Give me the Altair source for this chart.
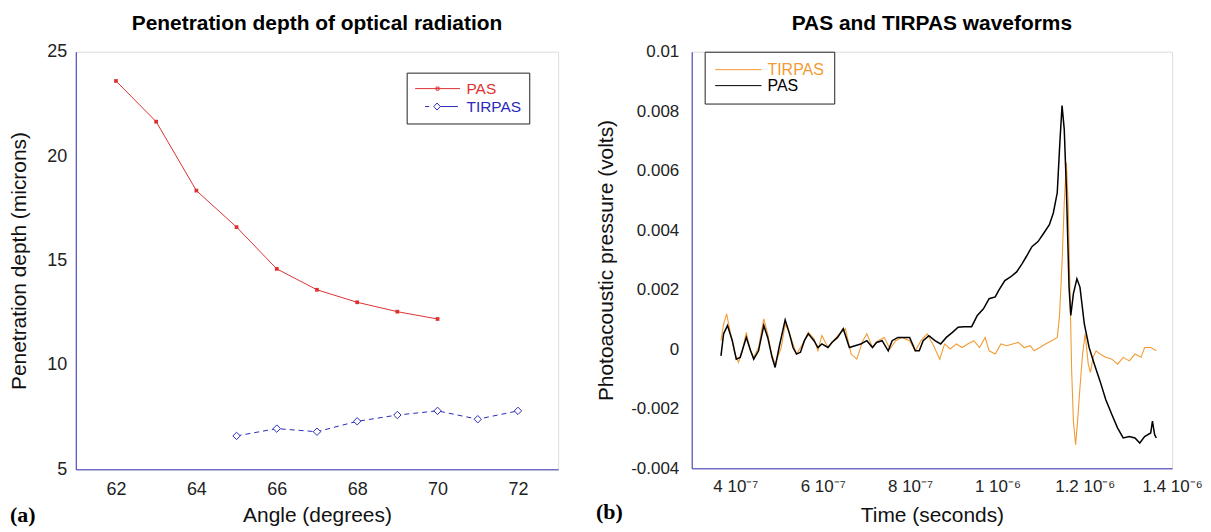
import altair as alt
import pandas as pd

# ---------------- panel (a) data ----------------
angle_pas = [62, 63, 64, 65, 66, 67, 68, 69, 70]
depth_pas = [23.6, 21.65, 18.35, 16.6, 14.6, 13.6, 13.0, 12.55, 12.2]
angle_tirpas = [65, 66, 67, 68, 69, 70, 71, 72]
depth_tirpas = [6.6, 6.95, 6.8, 7.3, 7.6, 7.8, 7.4, 7.8]
angle_ticks = [62, 64, 66, 68, 70, 72]
depth_ticks = [5, 10, 15, 20, 25]

# ---------------- panel (b) data ----------------
# time in units of 1e-7 s, pressure in mV
pas_time = [3.67, 3.73, 3.82, 3.93, 4.02, 4.11, 4.25, 4.35, 4.42, 4.53, 4.65, 4.74, 4.84, 4.91,
            5.00, 5.14, 5.23, 5.32, 5.40, 5.49, 5.58, 5.67, 5.80, 5.89, 5.98, 6.12, 6.21, 6.34,
            6.47, 6.61, 6.74, 6.87, 7.01, 7.14, 7.23, 7.36, 7.50, 7.59, 7.72, 7.85, 7.99, 8.12,
            8.21, 8.30, 8.43, 8.57, 8.70, 8.83, 8.97, 9.10, 9.23, 9.41, 9.54, 9.68, 9.81, 9.95,
            10.03, 10.17, 10.30, 10.44, 10.57, 10.66, 10.79, 10.93, 11.06, 11.19, 11.28, 11.37,
            11.43, 11.48, 11.53, 11.58, 11.64, 11.68, 11.74, 11.82, 11.89, 11.99, 12.10, 12.22,
            12.35, 12.48, 12.62, 12.75, 12.88, 13.02, 13.15, 13.26, 13.37, 13.51, 13.55, 13.60, 13.64]
pas_mv = [-0.22, 0.52, 0.80, 0.29, -0.33, -0.27, 0.40, -0.05, -0.33, -0.05, 0.80, 0.40, -0.27, -0.61,
          0.06, 0.99, 0.57, 0.06, -0.16, -0.10, 0.29, 0.52, 0.29, 0.06, 0.18, 0.06, 0.23, 0.40,
          0.69, 0.06, 0.12, 0.18, 0.29, 0.06, 0.23, 0.29, -0.05, 0.29, 0.40, 0.40, 0.40, -0.05,
          -0.05, 0.29, 0.46, 0.29, 0.18, 0.40, 0.57, 0.74, 0.76, 0.76, 1.14, 1.36, 1.70, 1.76,
          1.98, 2.31, 2.43, 2.60, 2.89, 3.11, 3.45, 3.62, 3.90, 4.19, 4.58, 5.26,
          6.95, 8.19, 7.40, 5.37, 2.09, 1.14, 1.87, 2.37, 2.09, 0.85, 0.06, -0.50,
          -1.07, -1.69, -2.19, -2.64, -2.98, -2.93, -2.98, -3.15, -2.93, -2.81, -2.41, -2.87, -2.98]
tir_time = [3.67, 3.73, 3.80, 3.89, 3.98, 4.07, 4.16, 4.25, 4.34, 4.42, 4.53, 4.65, 4.74, 4.83,
            4.91, 5.05, 5.14, 5.23, 5.32, 5.40, 5.54, 5.67, 5.80, 5.89, 5.98, 6.12, 6.25, 6.38,
            6.52, 6.65, 6.78, 6.92, 7.01, 7.14, 7.27, 7.41, 7.54, 7.67, 7.81, 7.99, 8.12, 8.25,
            8.39, 8.52, 8.68, 8.79, 8.92, 9.06, 9.19, 9.32, 9.46, 9.59, 9.72, 9.81, 9.95, 10.08,
            10.21, 10.35, 10.48, 10.61, 10.75, 10.84, 10.97, 11.10, 11.24, 11.37, 11.42, 11.48,
            11.53, 11.58, 11.62, 11.66, 11.70, 11.74, 11.79, 11.83, 11.89, 11.95, 12.01, 12.08,
            12.13, 12.19, 12.26, 12.35, 12.48, 12.62, 12.75, 12.88, 13.02, 13.15, 13.29, 13.37,
            13.51, 13.64]
tir_mv = [0.29, 0.85, 1.19, 0.52, -0.10, -0.44, -0.05, 0.57, -0.05, -0.27, 0.06, 1.02, 0.52, -0.16,
          -0.50, 0.06, 0.85, 0.57, 0.18, -0.16, 0.18, 0.57, 0.35, -0.05, 0.46, 0.06, 0.29, 0.52,
          0.69, -0.16, -0.33, 0.29, 0.52, 0.06, 0.29, 0.40, 0.01, 0.29, 0.40, 0.29, -0.05, 0.29,
          0.52, 0.18, -0.33, 0.18, 0.01, 0.18, 0.06, 0.18, 0.29, 0.06, 0.40, -0.05, -0.16, 0.18,
          0.12, 0.18, 0.23, 0.06, 0.12, -0.05, 0.06, 0.18, 0.29, 0.40, 1.08, 2.89,
          4.92, 6.27, 4.92, 2.09, -0.72, -2.41, -3.21, -2.53, -1.29, -0.16, 0.52, -0.50,
          -0.78, -0.27, -0.05, -0.16, -0.27, -0.33, -0.50, -0.27, -0.39, -0.16, -0.27, 0.06,
          0.06, -0.05]
time_ticks = [4e-7, 6e-7, 8e-7, 1e-6, 1.2e-6, 1.4e-6]
volt_ticks = [-0.004, -0.002, 0, 0.002, 0.004, 0.006, 0.008, 0.01]

series_a = ["PAS", "TIRPAS"]
series_b = ["TIRPAS", "PAS"]

# ---------------- styling ----------------
FONT = "Liberation Sans"
AXIS_BLUE = "#3535b5"
RED = "#dc3232"
BLUE = "#2a2ab8"
ORANGE = "#f39b33"
BLACK = "#000000"

# legend symbols: line + marker drawn as custom paths (unit = sqrt(size)/2)
PATH_PAS = "M-1,0H5M1.8,-0.2H2.2V0.2H1.8Z"
PATH_TIR = "M0.33,0H0.87M1.5,0L1.93,-0.47L2.36,0L1.93,0.47ZM2.36,0H4.73"
PATH_LINE = "M-1,0H5.2"

df_pas = pd.DataFrame({"angle": angle_pas, "depth": depth_pas})
df_tir = pd.DataFrame({"angle": angle_tirpas, "depth": depth_tirpas})
df_leg_a = pd.DataFrame({"series_a": series_a})

df_b_pas = pd.DataFrame({"t": [x * 1e-7 for x in pas_time], "v": [y / 1000 for y in pas_mv]})
df_b_tir = pd.DataFrame({"t": [x * 1e-7 for x in tir_time], "v": [y / 1000 for y in tir_mv]})
df_leg_b = pd.DataFrame({"series_b": series_b})


def axis(title, values, size, lab_pad, tit_pad, label_expr=None):
    kw = dict(
        title=title, values=values, grid=False, ticks=False,
        domainColor=AXIS_BLUE, domainWidth=1,
        labelFont=FONT, labelFontSize=size, labelColor="#222222", labelPadding=lab_pad,
        labelOverlap=False, labelFlush=False,
        titleFont=FONT, titleFontSize=21, titleFontWeight="normal", titleColor="#111111",
        titlePadding=tit_pad,
    )
    if label_expr:
        kw["labelExpr"] = label_expr
    return alt.Axis(**kw)


# ---------------- panel (a) ----------------
xa = alt.X("angle:Q", scale=alt.Scale(domain=[61, 73], nice=False, zero=False),
           axis=axis("Angle (degrees)", angle_ticks, 18, 11, 6))
ya = alt.Y("depth:Q", scale=alt.Scale(domain=[5, 25], nice=False, zero=False),
           axis=axis("Penetration depth (microns)", depth_ticks, 18, 9, 17))

line_pas = alt.Chart(df_pas).mark_line(color=RED, strokeWidth=1).encode(x=xa, y=ya)
pts_pas = alt.Chart(df_pas).mark_point(shape="square", filled=True, color=RED, size=14,
                                        opacity=1).encode(x=xa, y=ya)
line_tir = alt.Chart(df_tir).mark_line(color=BLUE, strokeWidth=1, strokeDash=[5, 4]).encode(x=xa, y=ya)
pts_tir = alt.Chart(df_tir).mark_point(shape="diamond", filled=True, fill="white", stroke=BLUE,
                                        strokeWidth=1, size=55, opacity=1).encode(x=xa, y=ya)

leg_a = alt.Legend(
    title=None, orient="none", legendX=332, legendY=21, padding=8,
    fillColor="white", strokeColor="#222222", symbolSize=225, symbolStrokeWidth=1,
    labelFont=FONT, labelFontSize=15.5, labelOffset=36, rowPadding=1,
    labelColor=alt.ExprRef(expr="datum.value === 'PAS' ? '%s' : '%s'" % (RED, BLUE)),
)
legend_layer_a = alt.Chart(df_leg_a).transform_filter("false").mark_point(
    filled=False, size=225, strokeWidth=1, opacity=1
).encode(
    shape=alt.Shape("series_a:N", scale=alt.Scale(domain=series_a, range=[PATH_PAS, PATH_TIR]), legend=leg_a),
    color=alt.Color("series_a:N", scale=alt.Scale(domain=series_a, range=[RED, BLUE]), legend=leg_a),
)

tag_a = alt.Chart(pd.DataFrame({"tag": ["(a)"]})).mark_text(
    font="Liberation Serif", fontSize=22, fontWeight="bold", align="left", baseline="middle", color="#000"
).encode(x=alt.value(-66), y=alt.value(465), text="tag:N")

chart_a = alt.layer(line_pas, pts_pas, line_tir, pts_tir, legend_layer_a, tag_a).properties(
    width=484, height=419,
    title=alt.Title("Penetration depth of optical radiation", font=FONT, fontSize=21,
                    fontWeight="bold", color="#000000", offset=9),
)

# ---------------- panel (b) ----------------
xb = alt.X("t:Q", scale=alt.Scale(domain=[3e-7, 1.4e-6], nice=False, zero=False),
           axis=axis("Time (seconds)", time_ticks, 17, 10, 10,
                     "datum.value < 9.5e-7 ? format(datum.value * 1e7, '.0f') + ' 10\u207b\u2077' : "
                     "format(datum.value * 1e6, '.1~f') + ' 10\u207b\u2076'"))
yb = alt.Y("v:Q", scale=alt.Scale(domain=[-0.004, 0.01], nice=False, zero=False),
           axis=axis("Photoacoustic pressure (volts)", volt_ticks, 17, 13, 14, "'' + datum.value"))

line_b_tir = alt.Chart(df_b_tir).mark_line(color=ORANGE, strokeWidth=1.1).encode(x=xb, y=yb)
line_b_pas = alt.Chart(df_b_pas).mark_line(color=BLACK, strokeWidth=1.5).encode(x=xb, y=yb)

leg_b = alt.Legend(
    title=None, orient="none", legendX=13, legendY=0, padding=10,
    fillColor="white", strokeColor="#222222", symbolSize=225, symbolStrokeWidth=1,
    labelFont=FONT, labelFontSize=16, labelOffset=37, rowPadding=0,
    labelColor=alt.ExprRef(expr="datum.value === 'TIRPAS' ? '%s' : '%s'" % (ORANGE, BLACK)),
)
legend_layer_b = alt.Chart(df_leg_b).transform_filter("false").mark_point(
    filled=False, size=225, strokeWidth=1, opacity=1
).encode(
    shape=alt.Shape("series_b:N", scale=alt.Scale(domain=series_b, range=[PATH_LINE, PATH_LINE]), legend=leg_b),
    color=alt.Color("series_b:N", scale=alt.Scale(domain=series_b, range=[ORANGE, BLACK]), legend=leg_b),
)

tag_b = alt.Chart(pd.DataFrame({"tag": ["(b)"]})).mark_text(
    font="Liberation Serif", fontSize=22, fontWeight="bold", align="left", baseline="middle", color="#000"
).encode(x=alt.value(-96), y=alt.value(462), text="tag:N")

chart_b = alt.layer(line_b_tir, line_b_pas, legend_layer_b, tag_b).properties(
    width=482, height=418,
    title=alt.Title("PAS and TIRPAS waveforms", font=FONT, fontSize=21,
                    fontWeight="bold", color="#000000", offset=9),
)

chart = alt.hconcat(chart_a, chart_b, spacing=36).resolve_scale(
    color="independent", shape="independent"
).resolve_legend(
    color="independent", shape="independent"
).properties(
    padding={"left": 0, "top": 3, "right": 0, "bottom": 0}
).configure_view(stroke=None).configure(background="white")

chart.save("out.html", embed_options={"renderer": "svg", "actions": False})
